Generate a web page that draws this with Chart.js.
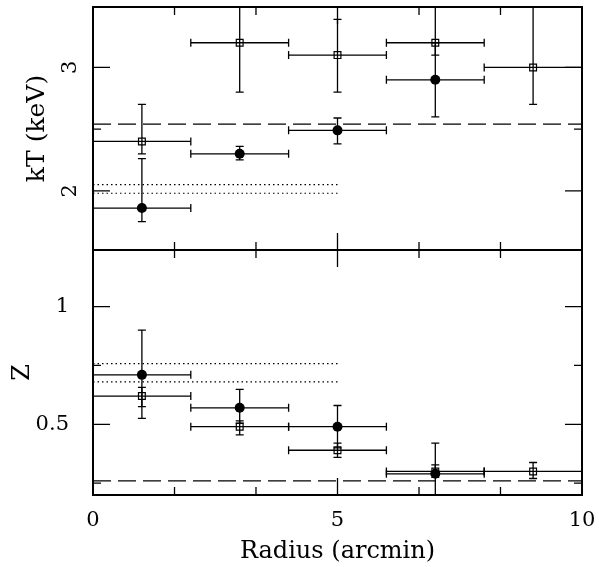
<!DOCTYPE html>
<html>
<head>
<meta charset="utf-8">
<script src="https://cdn.jsdelivr.net/npm/chart.js@4.4.1/dist/chart.umd.min.js"></script>
<style>
  html, body { margin: 0; padding: 0; background: #fff; }
  #wrap { position: relative; width: 599px; height: 567px; }
</style>
</head>
<body>
<div id="wrap"><canvas id="grafico" width="599" height="567"></canvas></div>
<script>
// radial bins (arcmin), each bin is 2 arcmin wide
const radiusCircle = [1, 3, 5, 7];
const radiusSquare = [1, 3, 5, 7, 9];
const binHalfWidth = 1;

// kT (keV) - filled circles
const ktCircle = [1.86, 2.30, 2.49, 2.90];
const ktCircleLow = [1.75, 2.25, 2.38, 2.60];
const ktCircleHigh = [2.26, 2.36, 2.59, 3.20];
// kT (keV) - open squares
const ktSquare = [2.40, 3.20, 3.10, 3.20, 3.00];
const ktSquareLow = [2.30, 2.80, 2.80, 3.10, 2.70];
const ktSquareHigh = [2.70, 3.60, 3.39, 3.60, 3.60];

// Z - filled circles
const zCircle = [0.71, 0.57, 0.49, 0.29];
const zCircleLow = [0.525, 0.505, 0.40, 0.16];
const zCircleHigh = [0.90, 0.648, 0.58, 0.42];
// Z - open squares
const zSquare = [0.62, 0.49, 0.39, 0.30, 0.30];
const zSquareLow = [0.575, 0.455, 0.36, 0.275, 0.27];
const zSquareHigh = [0.657, 0.515, 0.42, 0.328, 0.338];

// reference levels
const ktDashed = 2.54;
const ktDotted = [2.05, 1.98];
const zDashed = 0.26;
const zDotted = [0.758, 0.68];
const dottedRange = [0, 5];
const fullRange = [0, 10];

// ticks
const xTickLabels = [0, 5, 10];
const xMinorTicks = [1.667, 3.333, 6.667, 8.333];
const ktTickLabels = [2, 3];
const ktMinorTicks = [2.5];
const zTickLabels = [0.5, 1];
const zMinorTicks = [0.25, 0.75];

const serif = "'DejaVu Serif', serif";

function pontos(xs, ys) {
  return xs.map((x, i) => ({ x: x, y: ys[i] }));
}
function nivel(range, y) {
  return range.map(x => ({ x: x, y: y }));
}
function linha(range, y, eixo, dash) {
  return {
    type: 'line',
    data: nivel(range, y),
    yAxisID: eixo,
    borderColor: '#000',
    borderWidth: 1.2,
    borderDash: dash,
    pointRadius: 0,
    fill: false
  };
}
// the box is fixed by hand, no extra room for labels
function semPadding(s) {
  s.paddingTop = 0;
  s.paddingBottom = 0;
  s.paddingLeft = 0;
  s.paddingRight = 0;
}

const circulo = { pointStyle: 'circle', pointRadius: 5, backgroundColor: '#000', borderColor: '#000', borderWidth: 0 };
const quadrado = { pointStyle: 'rect', pointRadius: 4.8, backgroundColor: 'rgba(0,0,0,0)', borderColor: '#000', borderWidth: 1.2 };

// error bars drawn under the markers
const barrasErro = {
  id: 'barrasErro',
  beforeDatasetsDraw(chart) {
    const ctx = chart.ctx;
    const xs = chart.scales.x;
    chart.data.datasets.forEach((ds) => {
      if (!ds.errLow) return;
      const ys = chart.scales[ds.yAxisID];
      ctx.save();
      ctx.beginPath();
      ctx.rect(xs.left, ys.top, xs.right - xs.left, ys.bottom - ys.top);
      ctx.clip();
      ctx.strokeStyle = '#000';
      ctx.lineWidth = 1.3;
      ds.data.forEach((p, i) => {
        const px = xs.getPixelForValue(p.x);
        const py = ys.getPixelForValue(p.y);
        const x0 = xs.getPixelForValue(p.x - binHalfWidth);
        const x1 = xs.getPixelForValue(p.x + binHalfWidth);
        const y0 = ys.getPixelForValue(ds.errLow[i]);
        const y1 = ys.getPixelForValue(ds.errHigh[i]);
        ctx.beginPath();
        ctx.moveTo(x0, py); ctx.lineTo(x1, py);
        ctx.moveTo(px, y0); ctx.lineTo(px, y1);
        ctx.moveTo(x0, py - 4); ctx.lineTo(x0, py + 4);
        ctx.moveTo(x1, py - 4); ctx.lineTo(x1, py + 4);
        ctx.moveTo(px - 4, y0); ctx.lineTo(px + 4, y0);
        ctx.moveTo(px - 4, y1); ctx.lineTo(px + 4, y1);
        ctx.stroke();
      });
      ctx.restore();
    });
  }
};

// frame with inward ticks, like the original plot
const moldura = {
  id: 'moldura',
  afterDraw(chart) {
    const ctx = chart.ctx;
    const a = chart.chartArea;
    const xs = chart.scales.x;
    const yt = chart.scales.yT;
    const yz = chart.scales.yZ;
    const meio = yt.bottom;
    ctx.save();
    ctx.strokeStyle = '#000';
    ctx.lineWidth = 1.3;
    ctx.beginPath();
    const xt = [].concat(xTickLabels.map(v => [v, 17]), xMinorTicks.map(v => [v, 8]));
    xt.forEach(([v, len]) => {
      if (v <= xs.min || v >= xs.max) return;
      const px = xs.getPixelForValue(v);
      ctx.moveTo(px, a.top); ctx.lineTo(px, a.top + len);
      ctx.moveTo(px, meio - len); ctx.lineTo(px, meio + len);
      ctx.moveTo(px, a.bottom); ctx.lineTo(px, a.bottom - len);
    });
    [[yt, ktTickLabels, ktMinorTicks], [yz, zTickLabels, zMinorTicks]].forEach(([s, maj, min]) => {
      const yy = [].concat(maj.map(v => [v, 17]), min.map(v => [v, 8]));
      yy.forEach(([v, len]) => {
        if (v <= s.min || v >= s.max) return;
        const py = s.getPixelForValue(v);
        ctx.moveTo(a.left, py); ctx.lineTo(a.left + len, py);
        ctx.moveTo(a.right, py); ctx.lineTo(a.right - len, py);
      });
    });
    ctx.stroke();
    ctx.lineWidth = 2;
    ctx.strokeRect(a.left, a.top, a.right - a.left, a.bottom - a.top);
    ctx.beginPath();
    ctx.moveTo(a.left, meio); ctx.lineTo(a.right, meio);
    ctx.stroke();
    ctx.restore();
  }
};

const ctx = document.getElementById('grafico').getContext('2d');

const grafico = new Chart(ctx, {
  type: 'scatter',
  data: {
    datasets: [
      Object.assign({ data: pontos(radiusSquare, ktSquare), yAxisID: 'yT', errLow: ktSquareLow, errHigh: ktSquareHigh }, quadrado),
      Object.assign({ data: pontos(radiusCircle, ktCircle), yAxisID: 'yT', errLow: ktCircleLow, errHigh: ktCircleHigh }, circulo),
      Object.assign({ data: pontos(radiusSquare, zSquare), yAxisID: 'yZ', errLow: zSquareLow, errHigh: zSquareHigh }, quadrado),
      Object.assign({ data: pontos(radiusCircle, zCircle), yAxisID: 'yZ', errLow: zCircleLow, errHigh: zCircleHigh }, circulo),
      linha(fullRange, ktDashed, 'yT', [18, 7]),
      linha(dottedRange, ktDotted[0], 'yT', [1.5, 3]),
      linha(dottedRange, ktDotted[1], 'yT', [1.5, 3]),
      linha(fullRange, zDashed, 'yZ', [18, 7]),
      linha(dottedRange, zDotted[0], 'yZ', [1.5, 3]),
      linha(dottedRange, zDotted[1], 'yZ', [1.5, 3])
    ]
  },
  options: {
    responsive: false,
    animation: false,
    devicePixelRatio: 1,
    layout: { padding: { top: 7, right: 17, left: 0, bottom: 0 } },
    plugins: {
      legend: { display: false },
      tooltip: { enabled: false }
    },
    scales: {
      x: {
        type: 'linear',
        min: 0,
        max: 10,
        grid: { display: false },
        border: { display: false },
        afterBuildTicks: (s) => { s.ticks = xTickLabels.map(v => ({ value: v })); },
        afterFit: (s) => { s.height = 72; semPadding(s); },
        ticks: {
          color: '#000',
          padding: 5,
          maxRotation: 0,
          font: { family: serif, size: 21 },
          callback: (v) => String(v)
        },
        title: {
          display: true,
          text: 'Radius (arcmin)',
          color: '#000',
          font: { family: serif, size: 24 },
          padding: { top: 0, bottom: 1 }
        }
      },
      yZ: {
        type: 'linear',
        position: 'left',
        stack: 'painel',
        stackWeight: 245,
        min: 0.2,
        max: 1.24,
        grid: { display: false },
        border: { display: false },
        afterBuildTicks: (s) => { s.ticks = zTickLabels.map(v => ({ value: v })); },
        afterFit: (s) => { s.width = 93; semPadding(s); },
        ticks: {
          color: '#000',
          padding: 16,
          font: { family: serif, size: 21 },
          callback: (v) => String(v)
        },
        title: {
          display: true,
          text: 'Z',
          color: '#000',
          font: { family: serif, size: 24 },
          padding: { top: 8, bottom: 0 }
        }
      },
      yT: {
        type: 'linear',
        position: 'left',
        stack: 'painel',
        stackWeight: 243,
        min: 1.52,
        max: 3.49,
        grid: { display: false },
        border: { display: false },
        afterBuildTicks: (s) => { s.ticks = ktTickLabels.map(v => ({ value: v })); },
        afterFit: (s) => { s.width = 93; semPadding(s); },
        ticks: {
          color: '#000',
          padding: 8,
          minRotation: 90,
          maxRotation: 90,
          crossAlign: 'center',
          font: { family: serif, size: 21 },
          callback: (v) => String(v)
        },
        title: {
          display: true,
          text: 'kT (keV)',
          color: '#000',
          font: { family: serif, size: 25 },
          padding: { top: 22, bottom: 0 }
        }
      }
    }
  },
  plugins: [barrasErro, moldura]
});
</script>
</body>
</html>
